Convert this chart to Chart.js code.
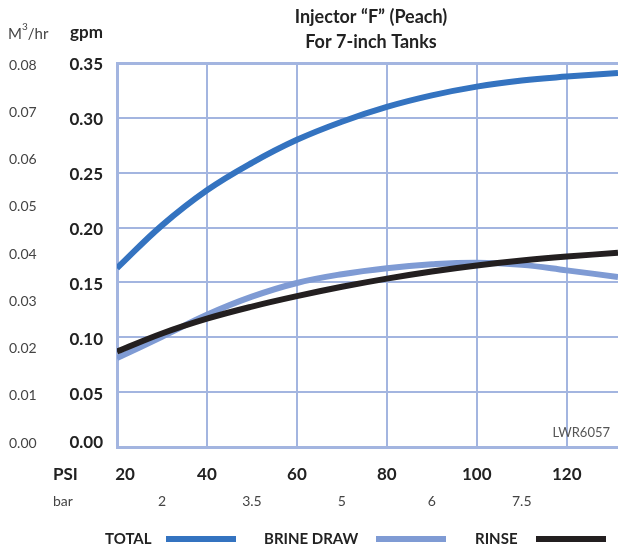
<!DOCTYPE html>
<html>
<head>
<meta charset="utf-8">
<script src="https://cdn.jsdelivr.net/npm/chart.js@4.4.1/dist/chart.umd.min.js"></script>
<style>
  html, body { margin: 0; padding: 0; background: #fff; }
  #wrap { width: 618px; height: 551px; }
</style>
</head>
<body>
<div id="wrap"><canvas id="chart" width="618" height="551"></canvas></div>
<script>
// data (gpm vs PSI)
const psi = [20, 30, 40, 50, 60, 70, 80, 90, 100, 110, 120, 131.4];
const totalGpm = [0.163, 0.202, 0.234, 0.259, 0.280, 0.2965, 0.310, 0.3205, 0.3285, 0.334, 0.3376, 0.341];
const brineGpm = [0.081, 0.1005, 0.1205, 0.137, 0.1495, 0.1575, 0.163, 0.1665, 0.168, 0.166, 0.161, 0.155];
const rinseGpm = [0.087, 0.1035, 0.117, 0.128, 0.1375, 0.146, 0.1535, 0.160, 0.1655, 0.170, 0.1736, 0.177];

const psiTicks = [20, 40, 60, 80, 100, 120];
const gpmTicks = [0, 0.05, 0.10, 0.15, 0.20, 0.25, 0.30, 0.35];
const gpmLabels = ['0.00', '0.05', '0.10', '0.15', '0.20', '0.25', '0.30', '0.35'];
const m3Labels = ['0.00', '0.01', '0.02', '0.03', '0.04', '0.05', '0.06', '0.07', '0.08'];
const barLabels = ['2', '3.5', '5', '6', '7.5'];
const barAtPsi = [30, 50, 70, 90, 110];
const seriesNames = ['TOTAL', 'BRINE DRAW', 'RINSE'];

const GRID = '#a3b5e0';
const TXT = '#222';
const FONT = 'Lato, "Open Sans", sans-serif';

function pts(ys) {
    return psi.map((x, i) => ({ x: x, y: ys[i] }));
}

// all the text around the plot
const labelsPlugin = {
    id: 'labels',
    afterDraw(chart) {
        const ctx = chart.ctx;
        const xs = chart.scales.x;
        const ys = chart.scales.y;
        ctx.save();
        ctx.fillStyle = TXT;
        ctx.textBaseline = 'middle';

        // title
        ctx.textAlign = 'center';
        ctx.font = 'bold 18px ' + FONT;
        ctx.fillText('Injector \u201CF\u201D (Peach)', 371, 17);
        ctx.fillText('For 7-inch Tanks', 371, 42);

        // axis heads
        ctx.textAlign = 'left';
        ctx.font = '15px ' + FONT;
        ctx.fillStyle = '#444';
        ctx.fillText('M', 8, 34);
        let w = ctx.measureText('M').width;
        ctx.font = '10px ' + FONT;
        ctx.fillText('3', 8 + w, 27);
        let w3 = ctx.measureText('3').width;
        ctx.font = '15px ' + FONT;
        ctx.fillText('/hr', 8 + w + w3, 34);
        ctx.fillStyle = TXT;
        ctx.font = 'bold 17px ' + FONT;
        ctx.fillText('gpm', 70, 33);

        // gpm ticks
        ctx.textAlign = 'right';
        ctx.font = 'bold 17px ' + FONT;
        gpmTicks.forEach((v, i) => {
            let y = ys.getPixelForValue(v);
            if (v === 0) y -= 4; else y += 2;
            ctx.fillText(gpmLabels[i], 103, y);
        });

        // m3/hr ticks, spread evenly over the same height
        const yTop = ys.getPixelForValue(0.35) + 2;
        const yBot = ys.getPixelForValue(0) - 4;
        ctx.textAlign = 'left';
        ctx.font = '14px ' + FONT;
        ctx.fillStyle = '#444';
        m3Labels.forEach((t, i) => {
            const y = yBot + (yTop - yBot) * i / (m3Labels.length - 1);
            ctx.fillText(t, 9, y);
        });

        // PSI row
        ctx.fillStyle = TXT;
        ctx.font = 'bold 17px ' + FONT;
        ctx.fillText('PSI', 53, 475);
        ctx.textAlign = 'center';
        psiTicks.forEach(v => {
            let x = xs.getPixelForValue(v);
            if (v === 20) x += 8;
            ctx.fillText(String(v), x, 475);
        });

        // bar row
        ctx.fillStyle = '#444';
        ctx.font = '14px ' + FONT;
        ctx.textAlign = 'left';
        ctx.fillText('bar', 53, 501);
        ctx.textAlign = 'center';
        barLabels.forEach((t, i) => {
            ctx.fillText(t, xs.getPixelForValue(barAtPsi[i]), 501);
        });

        // drawing number
        ctx.font = '13px ' + FONT;
        ctx.fillStyle = '#555';
        ctx.textAlign = 'right';
        ctx.fillText('LWR6057', 610, 433);

        // legend
        const legX = [[105, 166], [264, 376], [475, 536]];
        ctx.font = 'bold 15px ' + FONT;
        ctx.fillStyle = TXT;
        ctx.textAlign = 'left';
        chart.data.datasets.forEach((ds, i) => {
            ctx.fillText(seriesNames[i], legX[i][0], 539);
            ctx.fillStyle = ds.borderColor;
            ctx.fillRect(legX[i][1], 536, 70, 6);
            ctx.fillStyle = TXT;
        });
        ctx.restore();
    }
};

new Chart(document.getElementById('chart').getContext('2d'), {
    type: 'line',
    data: {
        datasets: [{
            label: seriesNames[0],
            data: pts(totalGpm),
            borderColor: '#3473c0',
            borderWidth: 6,
            order: 1
        }, {
            label: seriesNames[1],
            data: pts(brineGpm),
            borderColor: '#7f9bd4',
            borderWidth: 6,
            order: 3
        }, {
            label: seriesNames[2],
            data: pts(rinseGpm),
            borderColor: '#231f20',
            borderWidth: 6,
            order: 2
        }]
    },
    options: {
        responsive: false,
        animation: false,
        devicePixelRatio: 1,
        layout: {
            padding: { left: 117, top: 63, right: 0, bottom: 104 }
        },
        elements: {
            point: { radius: 0 },
            line: { tension: 0.4, fill: false }
        },
        scales: {
            x: {
                type: 'linear',
                min: 20,
                max: 131.4,
                afterBuildTicks: s => { s.ticks = psiTicks.map(v => ({ value: v })); },
                ticks: { display: false },
                grid: { color: GRID, lineWidth: 2, drawTicks: false },
                border: { color: GRID, width: 3 }
            },
            y: {
                type: 'linear',
                min: 0,
                max: 0.35,
                afterBuildTicks: s => { s.ticks = gpmTicks.map(v => ({ value: v })); },
                ticks: { display: false },
                grid: {
                    color: GRID,
                    lineWidth: c => (c.tick && c.tick.value === 0.35 ? 3 : 2),
                    drawTicks: false
                },
                border: { color: GRID, width: 3 }
            }
        },
        plugins: {
            legend: { display: false },
            tooltip: { enabled: false }
        }
    },
    plugins: [labelsPlugin]
});
</script>
</body>
</html>
